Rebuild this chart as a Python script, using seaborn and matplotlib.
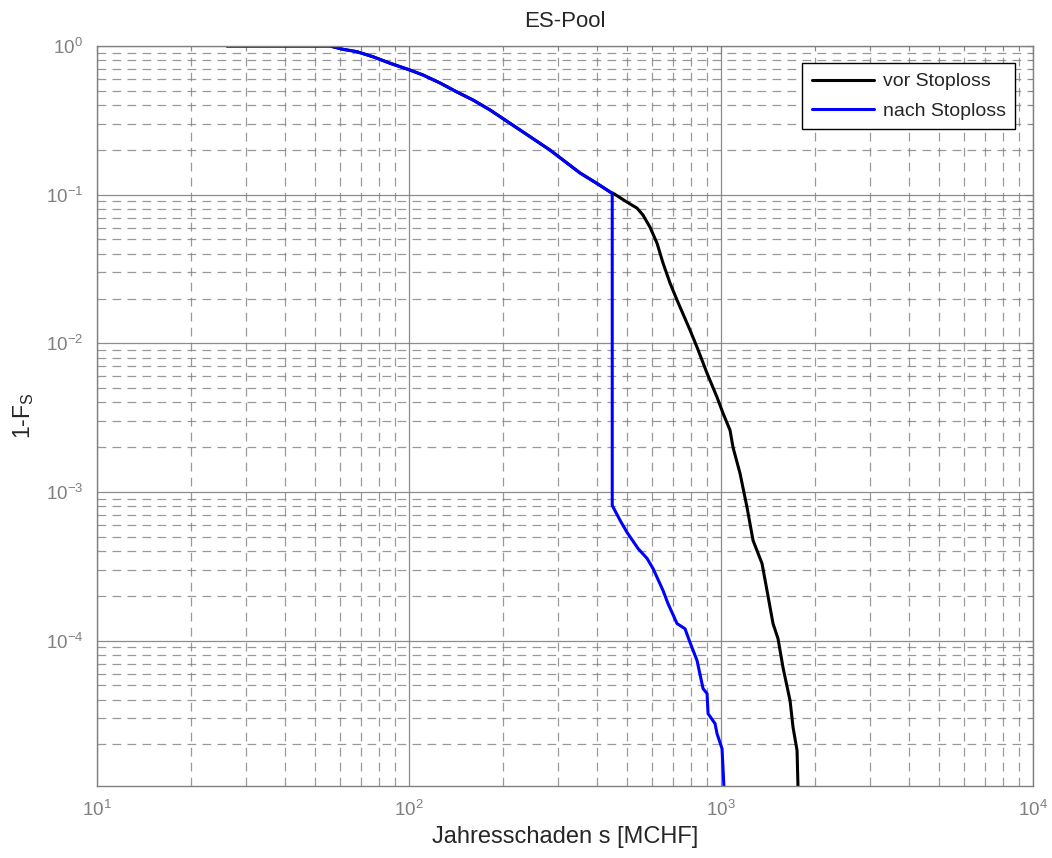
import numpy as np
import pandas as pd
import matplotlib
matplotlib.use("Agg")
import matplotlib.pyplot as plt
import seaborn as sns
from matplotlib.ticker import LogLocator, NullFormatter

# Shared upper branch of the exceedance curve (annual loss in MCHF, 1-F_S)
upper_s = [26.1, 55.8, 61.4, 68.0, 76.6, 87.0, 100.7, 110.9, 125.7, 142.5,
           160.4, 181.9, 227.0, 283.0, 321.0, 353.0, 400.0, 448.0]
upper_p = [1.0, 1.0, 0.95, 0.916, 0.847, 0.765, 0.689, 0.638, 0.564, 0.490,
           0.433, 0.371, 0.272, 0.1995, 0.163, 0.140, 0.119, 0.102]

# Tail before stop-loss
vor_s = [450.7, 499.7, 538.0, 562.3, 592.0, 623.6, 651.8, 686.3, 722.8, 795.6,
         837.8, 902.0, 971.0, 1014.9, 1068.6, 1092.7, 1150.6, 1211.5, 1266.6,
         1353.0, 1403.8, 1467.6, 1522.6, 1579.8, 1664.2, 1701.5, 1752.3, 1765.3]
vor_p = [0.1023, 0.0890, 0.0811, 0.0728, 0.0604, 0.0471, 0.0346, 0.0254, 0.0195,
         0.01224, 0.0094, 0.00628, 0.00433, 0.00338, 0.0026, 0.00199, 0.00133,
         0.000786, 0.000471, 0.00033, 0.000217, 0.00013, 0.000103, 6.58e-5,
         3.94e-5, 2.6e-5, 1.82e-5, 1.0e-5]

# Tail after stop-loss (cap at ~448 MCHF)
nach_s = [448.0, 448.0, 474.8, 499.7, 542.0, 579.1, 605.4, 651.8, 676.3, 722.8,
          766.6, 795.6, 837.8, 875.6, 902.0, 908.7, 956.7, 971.0, 1007.5, 1022.4]
nach_p = [0.102, 0.000811, 0.000643, 0.000534, 0.000416, 0.000357, 0.000305,
          0.000217, 0.000177, 0.00013, 0.00012, 9.69e-5, 7.33e-5, 4.75e-5,
          4.4e-5, 3.22e-5, 2.76e-5, 2.36e-5, 1.87e-5, 1.0e-5]

labels = ["vor Stoploss", "nach Stoploss"]
colors = ["black", "#0000ff"]

df = pd.concat([
    pd.DataFrame({"s": upper_s + vor_s, "p": upper_p + vor_p, "kurve": labels[0]}),
    pd.DataFrame({"s": upper_s[:-1] + nach_s, "p": upper_p[:-1] + nach_p, "kurve": labels[1]}),
], ignore_index=True)

sns.set_style("white")
plt.rcParams["font.family"] = ["Liberation Sans", "DejaVu Sans"]
plt.rcParams["mathtext.fontset"] = "custom"
plt.rcParams["mathtext.rm"] = "Liberation Sans"
plt.rcParams["axes.unicode_minus"] = False

fig = plt.figure(figsize=(10.52, 8.58), dpi=100)
ax = fig.add_axes([0.0922, 0.0839, 0.8898, 0.8625])

sns.lineplot(data=df, x="s", y="p", hue="kurve", palette=dict(zip(labels, colors)),
             sort=False, estimator=None, units="kurve", lw=2.2, ax=ax, legend=True)

ax.set_xscale("log")
ax.set_yscale("log")
ax.set_xlim(10, 1e4)
ax.set_ylim(1.05e-5, 1.0)

gray = "#808080"
ax.xaxis.set_major_locator(LogLocator(base=10, numticks=10))
ax.xaxis.set_minor_locator(LogLocator(base=10, subs=np.arange(2, 10), numticks=20))
ax.yaxis.set_major_locator(LogLocator(base=10, numticks=10))
ax.yaxis.set_minor_locator(LogLocator(base=10, subs=np.arange(2, 10), numticks=20))
ax.xaxis.set_minor_formatter(NullFormatter())
ax.yaxis.set_minor_formatter(NullFormatter())

ax.grid(True, which="major", color=gray, lw=0.9, ls="-", alpha=0.9)
ax.grid(True, which="minor", color=gray, lw=0.9, ls=(0, (7, 5)), alpha=0.8)
ax.set_axisbelow(True)

ax.tick_params(which="both", direction="in", top=True, right=True, colors=gray,
               labelcolor=gray, labelsize=13.5)
ax.tick_params(which="major", length=6, pad=10)
ax.tick_params(which="minor", length=3)
for sp in ax.spines.values():
    sp.set_color(gray)
    sp.set_linewidth(1.0)

ax.set_title("ES-Pool", fontsize=16, pad=14)
ax.set_xlabel("Jahresschaden s [MCHF]", fontsize=17, labelpad=4)
ax.set_ylabel("1-F$_\\mathdefault{S}$", fontsize=16.5, labelpad=7)

leg = ax.legend(loc="upper right", bbox_to_anchor=(0.981, 0.977), fontsize=14,
                frameon=True, fancybox=False, framealpha=1, edgecolor="black",
                handlelength=3.2, handletextpad=0.45, borderpad=0.5,
                labelspacing=0.6, borderaxespad=0)
leg.get_frame().set_linewidth(1.0)
for line in leg.get_lines():
    line.set_linewidth(2.2)

fig.savefig("out.png", dpi=100)
